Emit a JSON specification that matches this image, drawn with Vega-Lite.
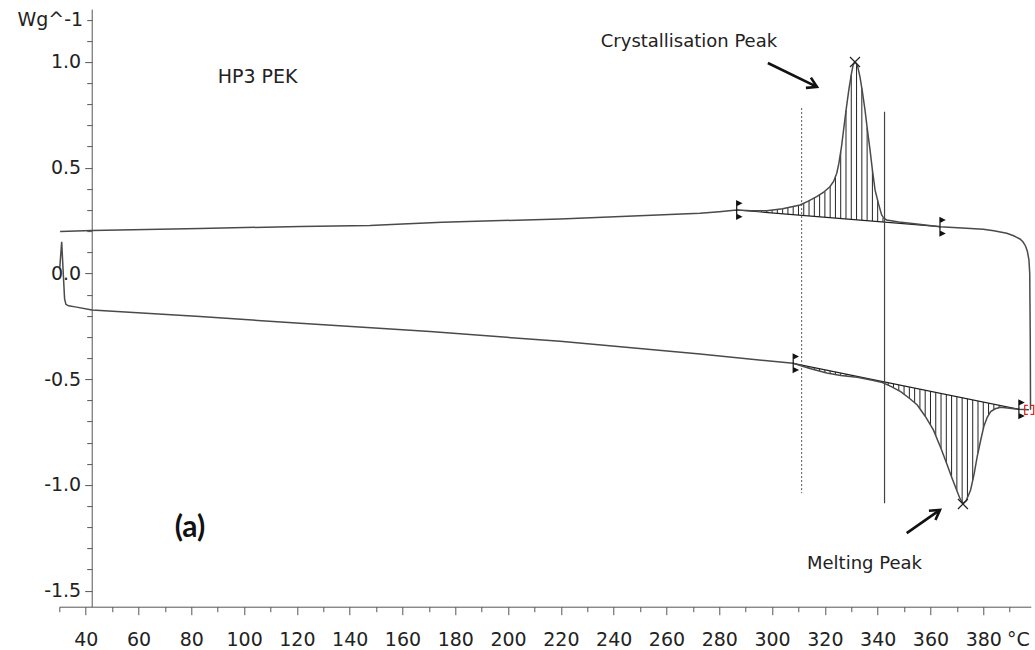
{
  "$schema": "https://vega.github.io/schema/vega-lite/v6.json",
  "width": 971.5,
  "height": 597.6,
  "autosize": {"type": "none"},
  "padding": {"left": 59.3, "top": 9.1, "right": 4, "bottom": 43},
  "background": "white",
  "config": {"view": {"stroke": null}, "font": "DejaVu Sans"},
  "datasets": {
    "curves": [
      {"s":"heat","i":1,"t":30.2,"w":0.03},{"s":"heat","i":2,"t":30.9,"w":0.15},{"s":"heat","i":3,"t":31.5,"w":0.0},{"s":"heat","i":4,"t":32.0,"w":-0.12},{"s":"heat","i":5,"t":32.5,"w":-0.146},{"s":"heat","i":6,"t":33.5,"w":-0.153},{"s":"heat","i":7,"t":36.0,"w":-0.158},{"s":"heat","i":8,"t":42.4,"w":-0.173},{"s":"heat","i":9,"t":83.3,"w":-0.203},{"s":"heat","i":10,"t":121.2,"w":-0.236},{"s":"heat","i":11,"t":170.4,"w":-0.275},{"s":"heat","i":12,"t":219.7,"w":-0.321},{"s":"heat","i":13,"t":272.7,"w":-0.381},{"s":"heat","i":14,"t":308.0,"w":-0.425},{"s":"heat","i":15,"t":314.0,"w":-0.448},{"s":"heat","i":16,"t":320.7,"w":-0.471},{"s":"heat","i":17,"t":326.0,"w":-0.482},{"s":"heat","i":18,"t":332.3,"w":-0.491},{"s":"heat","i":19,"t":338.0,"w":-0.505},{"s":"heat","i":20,"t":341.8,"w":-0.516},{"s":"heat","i":21,"t":345.0,"w":-0.534},{"s":"heat","i":22,"t":348.7,"w":-0.559},{"s":"heat","i":23,"t":352.0,"w":-0.59},{"s":"heat","i":24,"t":355.0,"w":-0.622},{"s":"heat","i":25,"t":358.0,"w":-0.675},{"s":"heat","i":26,"t":361.1,"w":-0.74},{"s":"heat","i":27,"t":364.0,"w":-0.828},{"s":"heat","i":28,"t":366.1,"w":-0.897},{"s":"heat","i":29,"t":368.0,"w":-0.962},{"s":"heat","i":30,"t":369.9,"w":-1.024},{"s":"heat","i":31,"t":371.2,"w":-1.065},{"s":"heat","i":32,"t":372.3,"w":-1.087},{"s":"heat","i":33,"t":373.5,"w":-1.075},{"s":"heat","i":34,"t":375.2,"w":-1.024},{"s":"heat","i":35,"t":376.5,"w":-0.95},{"s":"heat","i":36,"t":377.7,"w":-0.866},{"s":"heat","i":37,"t":379.0,"w":-0.79},{"s":"heat","i":38,"t":380.2,"w":-0.724},{"s":"heat","i":39,"t":381.5,"w":-0.68},{"s":"heat","i":40,"t":382.8,"w":-0.653},{"s":"heat","i":41,"t":384.5,"w":-0.64},{"s":"heat","i":42,"t":386.6,"w":-0.633},{"s":"heat","i":43,"t":390.0,"w":-0.637},{"s":"heat","i":44,"t":393.5,"w":-0.642},{"s":"heat","i":45,"t":397.3,"w":-0.645},
      {"s":"cool","i":1,"t":397.9,"w":-0.645},{"s":"cool","i":2,"t":397.8,"w":-0.3},{"s":"cool","i":3,"t":397.6,"w":0.0},{"s":"cool","i":4,"t":397.3,"w":0.064},{"s":"cool","i":5,"t":396.7,"w":0.105},{"s":"cool","i":6,"t":396.0,"w":0.13},{"s":"cool","i":7,"t":395.0,"w":0.15},{"s":"cool","i":8,"t":393.9,"w":0.163},{"s":"cool","i":9,"t":391.5,"w":0.178},{"s":"cool","i":10,"t":388.9,"w":0.19},{"s":"cool","i":11,"t":384.0,"w":0.202},{"s":"cool","i":12,"t":380.0,"w":0.209},{"s":"cool","i":13,"t":372.0,"w":0.215},{"s":"cool","i":14,"t":363.6,"w":0.221},{"s":"cool","i":15,"t":354.8,"w":0.234},{"s":"cool","i":16,"t":348.0,"w":0.243},{"s":"cool","i":17,"t":343.4,"w":0.253},{"s":"cool","i":18,"t":342.3,"w":0.262},{"s":"cool","i":19,"t":341.5,"w":0.277},{"s":"cool","i":20,"t":340.3,"w":0.33},{"s":"cool","i":21,"t":339.0,"w":0.395},{"s":"cool","i":22,"t":338.0,"w":0.49},{"s":"cool","i":23,"t":337.1,"w":0.584},{"s":"cool","i":24,"t":336.1,"w":0.68},{"s":"cool","i":25,"t":335.2,"w":0.773},{"s":"cool","i":26,"t":334.2,"w":0.86},{"s":"cool","i":27,"t":333.3,"w":0.93},{"s":"cool","i":28,"t":332.3,"w":0.985},{"s":"cool","i":29,"t":331.4,"w":1.0},{"s":"cool","i":30,"t":330.7,"w":0.985},{"s":"cool","i":31,"t":330.1,"w":0.947},{"s":"cool","i":32,"t":329.1,"w":0.87},{"s":"cool","i":33,"t":328.2,"w":0.789},{"s":"cool","i":34,"t":327.2,"w":0.69},{"s":"cool","i":35,"t":326.3,"w":0.6},{"s":"cool","i":36,"t":325.3,"w":0.52},{"s":"cool","i":37,"t":324.5,"w":0.474},{"s":"cool","i":38,"t":323.3,"w":0.435},{"s":"cool","i":39,"t":321.9,"w":0.41},{"s":"cool","i":40,"t":319.4,"w":0.383},{"s":"cool","i":41,"t":316.9,"w":0.363},{"s":"cool","i":42,"t":313.7,"w":0.342},{"s":"cool","i":43,"t":310.6,"w":0.324},{"s":"cool","i":44,"t":304.0,"w":0.306},{"s":"cool","i":45,"t":298.0,"w":0.297},{"s":"cool","i":46,"t":292.0,"w":0.297},{"s":"cool","i":47,"t":286.6,"w":0.3},{"s":"cool","i":48,"t":280.0,"w":0.292},{"s":"cool","i":49,"t":272.7,"w":0.285},{"s":"cool","i":50,"t":219.7,"w":0.258},{"s":"cool","i":51,"t":175.0,"w":0.242},{"s":"cool","i":52,"t":160.0,"w":0.234},{"s":"cool","i":53,"t":147.7,"w":0.227},{"s":"cool","i":54,"t":121.2,"w":0.222},{"s":"cool","i":55,"t":83.3,"w":0.213},{"s":"cool","i":56,"t":42.4,"w":0.203},{"s":"cool","i":57,"t":30.3,"w":0.198}
    ],
    "hatchC": [
      {"t":296,"w":0.297,"w2":0.29},{"t":298,"w":0.297,"w2":0.288},{"t":300,"w":0.299,"w2":0.286},{"t":302,"w":0.302,"w2":0.284},{"t":304,"w":0.306,"w2":0.282},{"t":306,"w":0.312,"w2":0.28},{"t":308,"w":0.318,"w2":0.278},{"t":310,"w":0.322,"w2":0.276},{"t":312,"w":0.331,"w2":0.274},{"t":314,"w":0.344,"w2":0.272},{"t":316,"w":0.357,"w2":0.27},{"t":318,"w":0.372,"w2":0.268},{"t":320,"w":0.388,"w2":0.266},{"t":322,"w":0.412,"w2":0.264},{"t":324,"w":0.46,"w2":0.262},{"t":326,"w":0.575,"w2":0.26},{"t":328,"w":0.77,"w2":0.258},{"t":330,"w":0.94,"w2":0.256},{"t":332,"w":0.99,"w2":0.254},{"t":334,"w":0.875,"w2":0.252},{"t":336,"w":0.69,"w2":0.25},{"t":338,"w":0.49,"w2":0.248},{"t":340,"w":0.345,"w2":0.246},{"t":342,"w":0.262,"w2":0.244}
    ],
    "hatchM": [
      {"t":310,"w":-0.433,"w2":-0.43},{"t":312,"w":-0.44,"w2":-0.435},{"t":314,"w":-0.448,"w2":-0.44},{"t":316,"w":-0.455,"w2":-0.445},{"t":318,"w":-0.462,"w2":-0.45},{"t":320,"w":-0.469,"w2":-0.455},{"t":322,"w":-0.474,"w2":-0.461},{"t":324,"w":-0.478,"w2":-0.466},{"t":326,"w":-0.482,"w2":-0.471},{"t":328,"w":-0.485,"w2":-0.476},{"t":330,"w":-0.488,"w2":-0.481},{"t":332,"w":-0.491,"w2":-0.486},{"t":334,"w":-0.495,"w2":-0.491},{"t":336,"w":-0.5,"w2":-0.496},{"t":338,"w":-0.505,"w2":-0.501},{"t":340,"w":-0.51,"w2":-0.506},{"t":342,"w":-0.517,"w2":-0.511},{"t":344,"w":-0.527,"w2":-0.516},{"t":346,"w":-0.541,"w2":-0.521},{"t":348,"w":-0.554,"w2":-0.527},{"t":350,"w":-0.571,"w2":-0.532},{"t":352,"w":-0.59,"w2":-0.537},{"t":354,"w":-0.611,"w2":-0.542},{"t":356,"w":-0.64,"w2":-0.547},{"t":358,"w":-0.675,"w2":-0.552},{"t":360,"w":-0.717,"w2":-0.557},{"t":362,"w":-0.767,"w2":-0.562},{"t":364,"w":-0.828,"w2":-0.567},{"t":366,"w":-0.894,"w2":-0.572},{"t":368,"w":-0.962,"w2":-0.577},{"t":370,"w":-1.026,"w2":-0.582},{"t":372,"w":-1.081,"w2":-0.587},{"t":374,"w":-1.06,"w2":-0.592},{"t":376,"w":-0.979,"w2":-0.598},{"t":378,"w":-0.848,"w2":-0.603},{"t":380,"w":-0.735,"w2":-0.608},{"t":382,"w":-0.67,"w2":-0.613},{"t":384,"w":-0.644,"w2":-0.618},{"t":386,"w":-0.635,"w2":-0.623},{"t":388,"w":-0.635,"w2":-0.628},{"t":390,"w":-0.637,"w2":-0.633}
    ],
    "baselines": [{"t":286.6,"w":0.3,"t2":363.6,"w2":0.221},{"t":308.0,"w":-0.425,"t2":393.5,"w2":-0.642}],
    "vdash": [{"t":311.2,"w":0.782,"w2":-1.039}],
    "vsolid": [{"t":342.6,"w":0.765,"w2":-1.087}],
    "brackets": [{"t":286.6,"w":0.3},{"t":363.6,"w":0.221},{"t":308.0,"w":-0.425},{"t":393.5,"w":-0.642}],
    "peaks": [{"t":331.4,"w":1.0},{"t":372.3,"w":-1.09}],
    "red": [{"t":397.4,"w":-0.645}],
    "arrows": [{"t":298.4,"w":0.995,"t2":317.0,"w2":0.882},{"t":351.0,"w":-1.228,"t2":363.6,"w2":-1.118}],
    "head1": [{"t":317.0,"w":0.882}],
    "head2": [{"t":363.6,"w":-1.118}],
    "txtCryst": [{"t":301.9,"w":1.095,"label":"Crystallisation Peak"}],
    "txtMelt": [{"t":335.0,"w":-1.373,"label":"Melting Peak"}],
    "txtSample": [{"t":105.1,"w":0.929,"label":"HP3 PEK"}],
    "txtA": [{"t":79.5,"w":-1.203,"label":"(a)"}]
  },
  "encoding": {
    "x": {
      "field": "t", "type": "quantitative",
      "scale": {"domain": [30, 398], "nice": false, "zero": false},
      "axis": {
        "values": [30,40,50,60,70,80,90,100,110,120,130,140,150,160,170,180,190,200,210,220,230,240,250,260,270,280,290,300,310,320,330,340,350,360,370,380,390],
        "format": "d",
        "labelExpr": "datum.value % 20 == 0 ? datum.label : ''",
        "labelOverlap": false, "labelFlush": false, "labelBound": false,
        "labelFont": "DejaVu Sans", "labelFontSize": 19, "labelColor": "#222",
        "labelBaseline": "alphabetic", "labelPadding": 31,
        "tickSize": {"condition": {"test": "datum.value % 20 == 0", "value": 8}, "value": 5},
        "tickColor": "#555", "domainColor": "#555", "grid": false,
        "title": "°C", "titleX": 958.7, "titleY": 39.3, "titleAlign": "center", "titleBaseline": "alphabetic",
        "titleFont": "DejaVu Sans", "titleFontSize": 19, "titleFontWeight": "normal", "titleColor": "#222"
      }
    },
    "y": {
      "field": "w", "type": "quantitative",
      "scale": {"domain": [-1.5757, 1.25], "nice": false, "zero": false},
      "axis": {
        "values": [-1.5,-1.4,-1.3,-1.2,-1.1,-1,-0.9,-0.8,-0.7,-0.6,-0.5,-0.4,-0.3,-0.2,-0.1,0,0.1,0.2,0.3,0.4,0.5,0.6,0.7,0.8,0.9,1,1.1,1.2],
        "labelExpr": "datum.value == 1.2 ? 'Wg^-1' : (round(datum.value * 10) % 5 == 0 ? replace(format(datum.value, '.1f'), '−', '-') : '')",
        "labelOverlap": false, "labelFlush": false, "labelBound": false,
        "labelFont": "DejaVu Sans", "labelFontSize": 19, "labelColor": "#222", "labelPadding": 4,
        "tickSize": {"condition": {"test": "round(datum.value * 10) % 5 == 0", "value": 7}, "value": 5},
        "tickColor": "#555", "domainColor": "#555", "grid": false,
        "offset": -32.4,
        "title": null
      }
    }
  },
  "layer": [
    {"data": {"name": "hatchC"}, "mark": {"type": "rule", "color": "#222", "strokeWidth": 1}, "encoding": {"y2": {"field": "w2"}}},
    {"data": {"name": "hatchM"}, "mark": {"type": "rule", "color": "#222", "strokeWidth": 1}, "encoding": {"y2": {"field": "w2"}}},
    {"data": {"name": "baselines"}, "mark": {"type": "rule", "color": "#222", "strokeWidth": 1.2}, "encoding": {"x2": {"field": "t2"}, "y2": {"field": "w2"}}},
    {"data": {"name": "vdash"}, "mark": {"type": "rule", "color": "#555", "strokeWidth": 1, "strokeDash": [2, 2]}, "encoding": {"y2": {"field": "w2"}}},
    {"data": {"name": "vsolid"}, "mark": {"type": "rule", "color": "#444", "strokeWidth": 1.2}, "encoding": {"y2": {"field": "w2"}}},
    {"data": {"name": "curves"}, "mark": {"type": "line", "color": "#4a4a4a", "strokeWidth": 1.5}, "encoding": {"detail": {"field": "s"}, "order": {"field": "i", "type": "quantitative"}}},
    {"data": {"name": "brackets"}, "mark": {"type": "point", "shape": "M0,-1L0,1M0,-1L0.5,-0.75L0,-0.5ZM0,1L0.5,0.75L0,0.5Z", "size": 324, "filled": true, "fill": "#111", "stroke": "#111", "strokeWidth": 1.2, "opacity": 1}},
    {"data": {"name": "peaks"}, "mark": {"type": "point", "shape": "M-1,-1L1,1M-1,1L1,-1", "size": 100, "filled": false, "stroke": "#222", "strokeWidth": 1.2, "opacity": 1}},
    {"data": {"name": "red"}, "mark": {"type": "point", "shape": "M-0.3,-1L-1,-1L-1,1L-0.3,1M0.3,-1L1,-1L1,1L0.3,1", "size": 81, "filled": false, "stroke": "#e02020", "strokeWidth": 1.2, "opacity": 1}},
    {"data": {"name": "arrows"}, "mark": {"type": "rule", "color": "#111", "strokeWidth": 2.6}, "encoding": {"x2": {"field": "t2"}, "y2": {"field": "w2"}}},
    {"data": {"name": "head1"}, "mark": {"type": "point", "shape": "M-1,-0.6L0,0L-1,0.6", "size": 361, "angle": 26, "filled": false, "stroke": "#111", "strokeWidth": 2.6, "opacity": 1}},
    {"data": {"name": "head2"}, "mark": {"type": "point", "shape": "M-1,-0.6L0,0L-1,0.6", "size": 361, "angle": -35, "filled": false, "stroke": "#111", "strokeWidth": 2.6, "opacity": 1}},
    {"data": {"name": "txtCryst"}, "mark": {"type": "text", "align": "right", "baseline": "middle", "font": "DejaVu Sans", "fontSize": 18, "color": "#222"}, "encoding": {"text": {"field": "label"}}},
    {"data": {"name": "txtMelt"}, "mark": {"type": "text", "align": "center", "baseline": "middle", "font": "DejaVu Sans", "fontSize": 18, "color": "#222"}, "encoding": {"text": {"field": "label"}}},
    {"data": {"name": "txtSample"}, "mark": {"type": "text", "align": "center", "baseline": "middle", "font": "DejaVu Sans", "fontSize": 19, "color": "#222"}, "encoding": {"text": {"field": "label"}}},
    {"data": {"name": "txtA"}, "mark": {"type": "text", "align": "center", "baseline": "middle", "font": "Lato", "fontWeight": "bold", "fontSize": 30, "color": "#111"}, "encoding": {"text": {"field": "label"}}}
  ]
}
